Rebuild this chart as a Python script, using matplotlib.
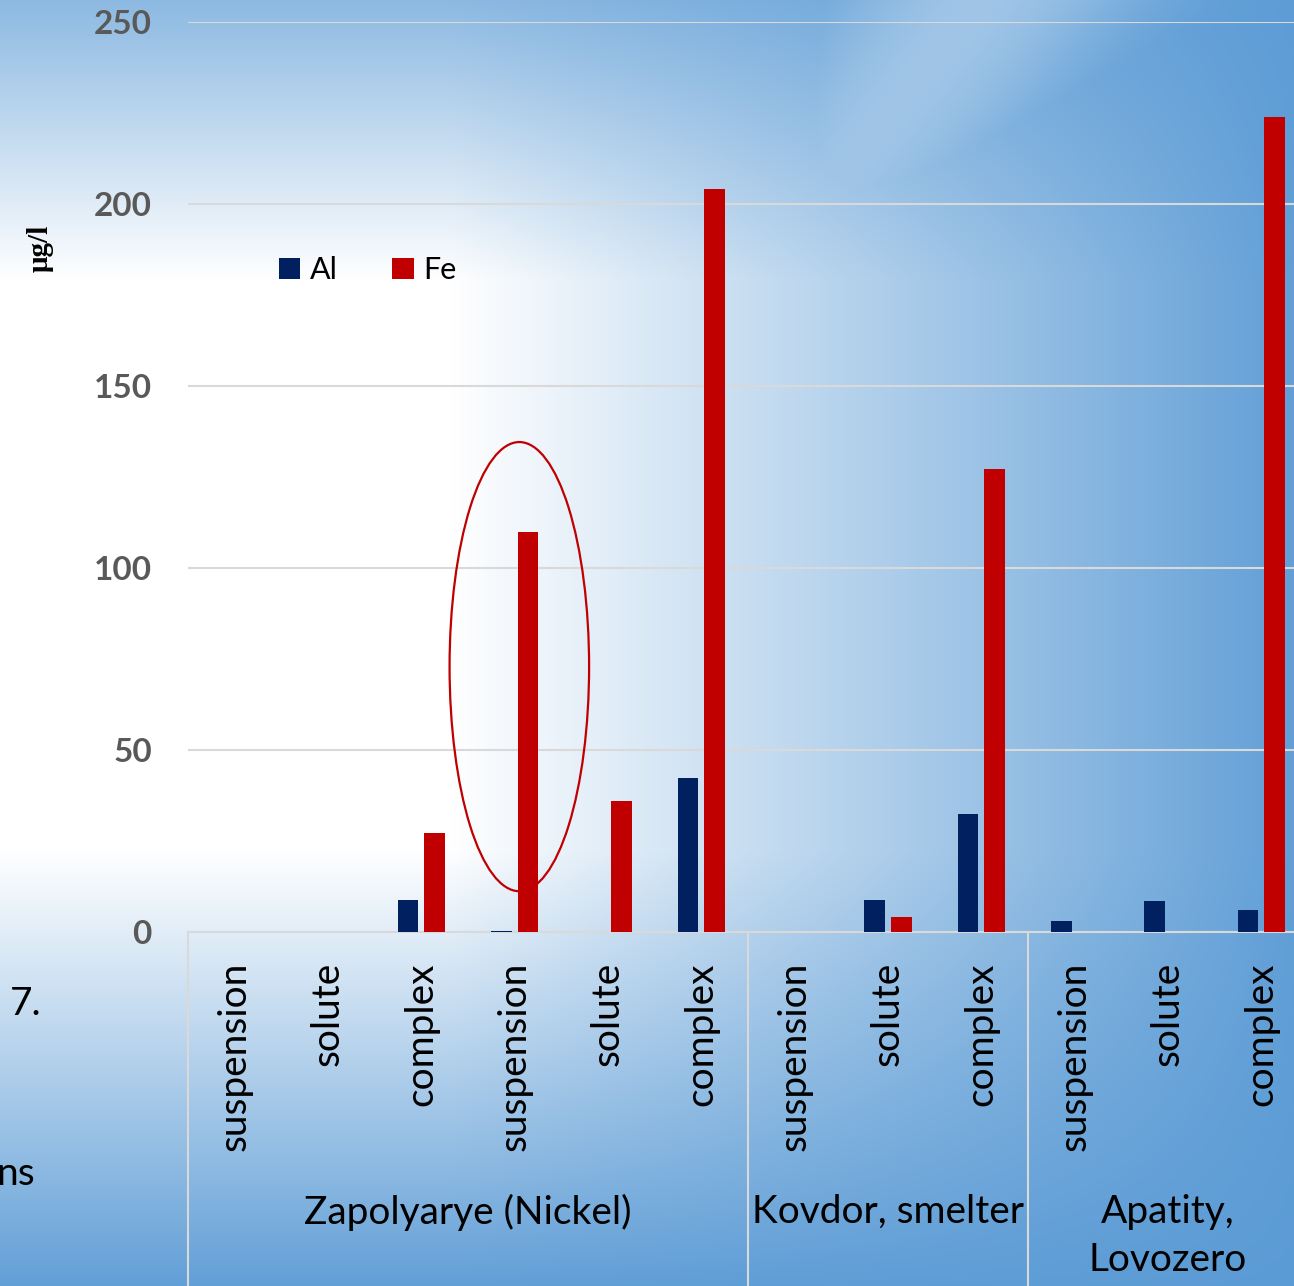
import numpy as np
import matplotlib.pyplot as plt
from matplotlib.patches import Ellipse

# concentrations, ug/l
categories = ['suspension', 'solute', 'complex'] * 4
groups = ['Zapolyarye (Nickel)', 'Kovdor, smelter', 'Apatity,\nLovozero']
group_spans = [(0, 5), (6, 8), (9, 11)]
al_values = [0, 0, 8.8, 0.4, 0, 42.3, 0, 8.8, 32.4, 3.1, 8.5, 6.0]
fe_values = [0, 0, 27.2, 110, 36, 204, 0, 4.1, 127.2, 0, 0, 224]
yticks = [0, 50, 100, 150, 200, 250]

W, H = 1294, 1286
fig = plt.figure(figsize=(W / 100, H / 100), dpi=100)

# slide background: blue, washed to white on the left, light streak at the top
yy, xx = np.mgrid[0:H, 0:W].astype(float)
tx = np.clip((1330 - xx) / 880.0, 0, 1)
ty = np.where(yy < 280, 0.3 + 0.7 * yy / 280.0,
              np.clip(1 - (yy - 850) / 455.0, 0, 1))
t = tx * ty
ux, uy = 0.625, -0.781
vx, vy = xx - 700, yy - 350
perp = np.abs(vx * uy - vy * ux)
streak = 0.42 * np.exp(-(perp / 130.0) ** 2) * np.clip((500 - yy) / 250.0, 0, 1)
t = np.maximum(t, streak)
base = np.array([91, 155, 213]) / 255.0
img = base + (1 - base) * t[..., None]
bg = fig.add_axes([0, 0, 1, 1], zorder=-1)
bg.imshow(img, extent=[0, 1, 0, 1], aspect='auto', origin='upper')
bg.axis('off')

cat_w = 560 / 6.0
ax = fig.add_axes([188 / W, 354 / H, (W - 188) / W, 910 / H])
ax.set_facecolor('none')
ax.set_xlim(-0.5, -0.5 + (W - 188) / cat_w)
ax.set_ylim(0, 250)

x = np.arange(len(categories))
off, bw = 0.143, 0.222
ax.bar(x - off, al_values, bw, color='#002060', label='Al', zorder=3)
ax.bar(x + off, fe_values, bw, color='#C00000', label='Fe', zorder=3)

ax.set_yticks(yticks)
ax.set_yticklabels([str(v) for v in yticks], fontsize=24, fontweight='bold',
                   color='#595959', family='Lato')
ax.tick_params(axis='y', length=0, pad=26)
ax.tick_params(axis='x', length=0, labelbottom=False)
ax.grid(axis='y', color='#d9d9d9', linewidth=1.5, zorder=0)
for s in ['top', 'right', 'left']:
    ax.spines[s].set_visible(False)
ax.spines['bottom'].set_color('#d9d9d9')
ax.spines['bottom'].set_linewidth(1.5)

trans = ax.get_xaxis_transform()
for i, c in enumerate(categories):
    ax.text(i, -0.033, c, rotation=90, ha='center', va='top', fontsize=28,
            family='Lato', color='black', transform=trans)
for g, (a, b) in zip(groups, group_spans):
    ax.text((a + b) / 2, -0.288, g, ha='center', va='top', fontsize=28,
            family='Lato', color='black', linespacing=1.4, transform=trans)
    ax.plot([a - 0.5, a - 0.5], [0, -0.4], color='#d9d9d9', lw=1.5,
            transform=trans, clip_on=False)

ax.add_patch(Ellipse((3.05, 72.9), 1.495, 123.4, fill=False,
                     edgecolor='#C00000', lw=1.6, zorder=4))

ax.legend(loc='center left', bbox_to_anchor=(279 / W, 1 - 270 / H),
          bbox_transform=fig.transFigure, ncol=2, frameon=False,
          prop={'family': 'Lato', 'size': 22}, handlelength=0.7,
          handleheight=0.7, handletextpad=0.3, columnspacing=1.8,
          borderpad=0, borderaxespad=0)

fig.text(40 / W, 1 - 248 / H, 'μg/l', rotation=90, ha='center', va='center',
         fontsize=21, fontweight='bold', family='Liberation Serif')

# pieces of the slide text on the left
fig.text(10 / W, 1 - 1015 / H, '7.', fontsize=28, family='Lato', va='baseline')
fig.text(-4 / W, 1 - 1185 / H, 'ns', fontsize=28, family='Lato', va='baseline')

fig.savefig('out.png', dpi=100)
